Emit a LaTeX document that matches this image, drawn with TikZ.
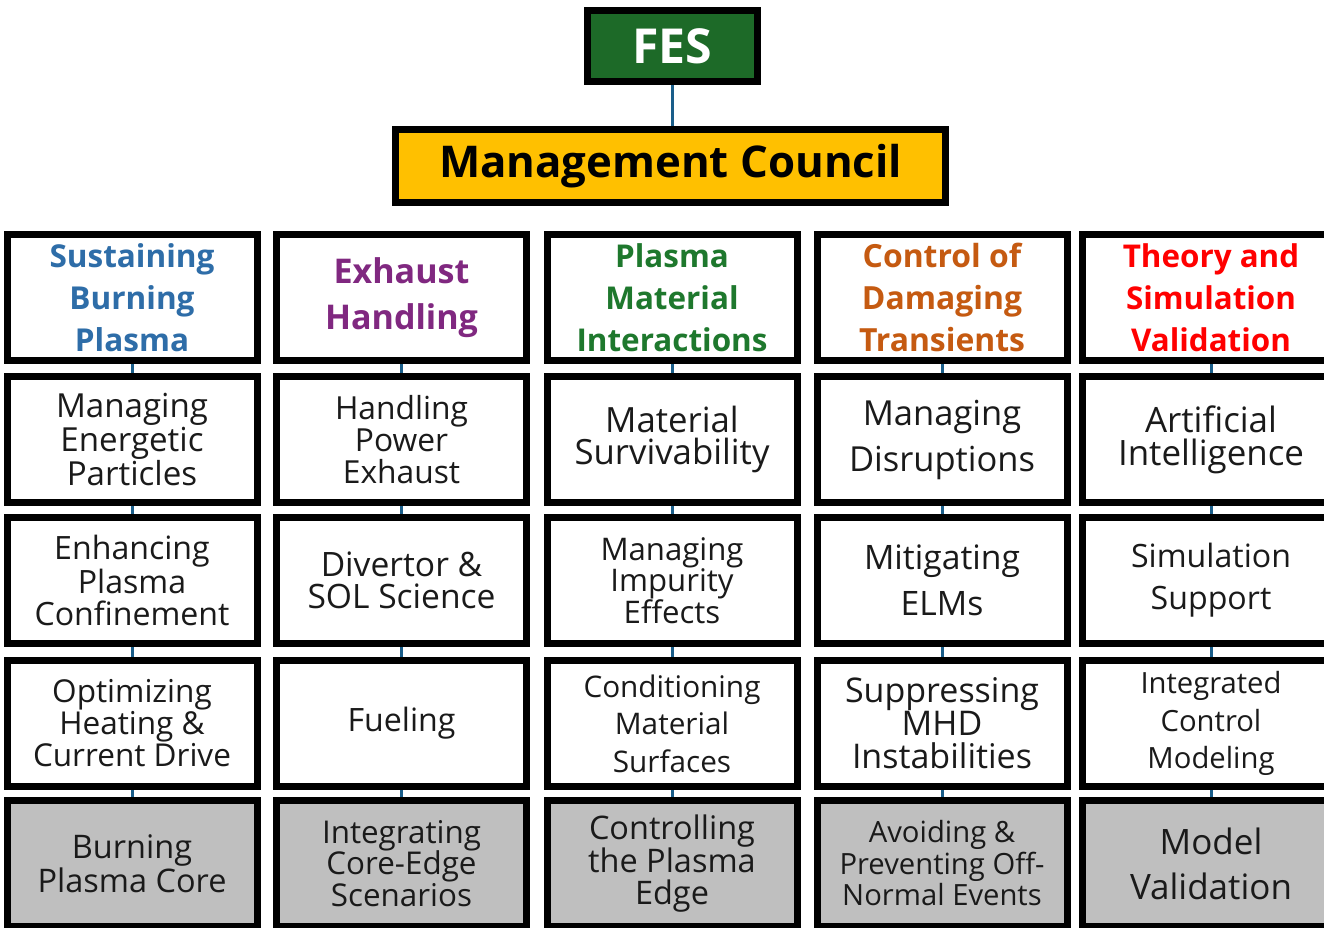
\documentclass[tikz,border=0pt]{standalone}
\usepackage{fontspec}
\setmainfont{Open Sans}
\usetikzlibrary{backgrounds}

\definecolor{fesgreen}{RGB}{29,106,40}
\definecolor{mcgold}{RGB}{255,192,0}
\definecolor{hblue}{RGB}{46,109,168}
\definecolor{hpurple}{RGB}{128,40,128}
\definecolor{hgreen}{RGB}{30,120,45}
\definecolor{horange}{RGB}{197,90,17}
\definecolor{hred}{RGB}{255,0,0}
\definecolor{corefill}{RGB}{191,191,191}
\definecolor{linkblue}{RGB}{26,94,138}
\definecolor{bodytext}{RGB}{26,26,26}

% Font sized so that a given line has a given width:
% #1 weight switch, #2 sample line, #3 target width (pt), #4 baseline skip (pt)
\newbox\fitbox
\newlength\fitsize
\newcommand\fitfont[4]{%
  \setbox\fitbox\hbox{\fontsize{10pt}{12pt}\selectfont#1#2}%
  \fitsize=\dimexpr 10pt*\numexpr\dimexpr#3pt\relax\relax/\numexpr\wd\fitbox\relax\relax
  \fontsize{\fitsize}{#4pt}\selectfont#1}

\tikzset{
  cell/.style={draw=black, line width=7pt, minimum width=250pt, minimum height=126pt,
    inner sep=0pt, align=center, fill=white, text=bodytext},
  wide/.style={minimum width=257pt},
  core/.style={cell, fill=corefill},
  link/.style={draw=linkblue, line width=3pt},
}

\begin{document}
\begin{tikzpicture}[x=1pt, y=-1pt]
\useasboundingbox (0,0) rectangle (1324,928);

% top of the hierarchy
\node[cell, fill=fesgreen, text=white, minimum width=170pt, minimum height=71pt,
  font=\fitfont{\bfseries}{FES}{80}{40}] (fes) at (672.5,46) {FES};
\node[cell, fill=mcgold, text=black, minimum width=550pt, minimum height=73pt,
  font=\fitfont{\bfseries}{Management Council}{463}{50}] (mc) at (670.5,166) {Management Council};

% column headers
\node[cell, text=hblue, font=\fitfont{\bfseries}{Sustaining}{165}{42}] (h1) at (132,297.5) {Sustaining\\Burning\\Plasma};
\node[cell, text=hpurple, font=\fitfont{\bfseries}{Handling}{153}{46}] (h2) at (401.5,297.5) {Exhaust\\Handling};
\node[cell, text=hgreen, font=\fitfont{\bfseries}{Interactions}{191}{42}] (h3) at (672,297.5) {Plasma\\Material\\Interactions};
\node[cell, text=horange, font=\fitfont{\bfseries}{Transients}{166}{42}] (h4) at (942,297.5) {Control of\\Damaging\\Transients};
\node[cell, wide, text=hred, font=\fitfont{\bfseries}{Simulation}{170}{42}] (h5) at (1211,297.5) {Theory and\\Simulation\\Validation};

% second row
\node[cell, font=\fitfont{}{Managing}{152}{32}] (a1) at (132,439.5) {Managing\\Energetic\\Particles};
\node[cell, font=\fitfont{}{Handling}{133}{32}] (a2) at (401.5,439.5) {Handling\\Power\\Exhaust};
\node[cell, font=\fitfont{}{Survivability}{195}{32}] (a3) at (672,439.5) {Material\\Survivability};
\node[cell, font=\fitfont{}{Disruptions}{186}{46}] (a4) at (942,439.5) {Managing\\Disruptions};
\node[cell, wide, font=\fitfont{}{Intelligence}{186}{33}] (a5) at (1211,439.5) {Artificial\\Intelligence};

% third row
\node[cell, font=\fitfont{}{Confinement}{195}{32}] (b1) at (132,580.5) {Enhancing\\Plasma\\Confinement};
\node[cell, font=\fitfont{}{SOL Science}{188}{32}] (b2) at (401.5,580.5) {Divertor \&\\SOL Science};
\node[cell, font=\fitfont{}{Managing}{143}{31.5}] (b3) at (672,580.5) {Managing\\Impurity\\Effects};
\node[cell, font=\fitfont{}{Mitigating}{156}{46}] (b4) at (942,580.5) {Mitigating\\ELMs};
\node[cell, wide, font=\fitfont{}{Simulation}{160}{42}] (b5) at (1211,580.5) {Simulation\\Support};

% fourth row
\node[cell, font=\fitfont{}{Current Drive}{198}{32}] (c1) at (132,723.5) {Optimizing\\Heating \&\\Current Drive};
\node[cell, font=\fitfont{}{Fueling}{108}{32}] (c2) at (401.5,723.5) {Fueling};
\node[cell, font=\fitfont{}{Conditioning}{177}{37.5}] (c3) at (672,723.5) {Conditioning\\Material\\Surfaces};
\node[cell, font=\fitfont{}{Suppressing}{194}{33}] (c4) at (942,723.5) {Suppressing\\MHD\\Instabilities};
\node[cell, wide, font=\fitfont{}{Integrated}{141}{37.5}] (c5) at (1211,723.5) {Integrated\\Control\\Modeling};

% integrating row (grey)
\node[core, font=\fitfont{}{Plasma Core}{189}{31.5}] (d1) at (132,863.5) {Burning\\Plasma Core};
\node[core, font=\fitfont{}{Integrating}{159}{31.5}] (d2) at (401.5,863.5) {Integrating\\Core-Edge\\Scenarios};
\node[core, font=\fitfont{}{Controlling}{166}{31.5}] (d3) at (672,863.5) {Controlling\\the Plasma\\Edge};
\node[core, font=\fitfont{}{Preventing Off-}{205}{31.5}] (d4) at (942,863.5) {Avoiding \&\\Preventing Off-\\Normal Events};
\node[core, wide, font=\fitfont{}{Validation}{162}{45}] (d5) at (1211,863.5) {Model\\Validation};

% connectors, behind the boxes
\begin{scope}[on background layer]
  \draw[link] (fes.south) -- (fes.south |- mc.north);
  \foreach \col in {1,...,5} {
    \draw[link] (h\col.south) -- (a\col.north);
    \draw[link] (a\col.south) -- (b\col.north);
    \draw[link] (b\col.south) -- (c\col.north);
    \draw[link] (c\col.south) -- (d\col.north);
  }
\end{scope}
\end{tikzpicture}
\end{document}
